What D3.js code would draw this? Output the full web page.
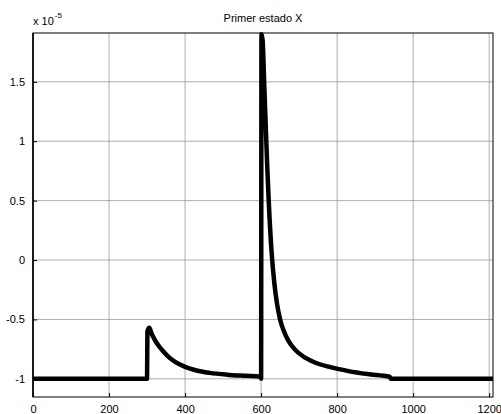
<!DOCTYPE html>
<html>
<head>
<meta charset="utf-8">
<script src="https://cdn.jsdelivr.net/npm/d3@7"></script>
<style>
  body { margin: 0; background: #fff; }
  svg { display: block; font-family: "Liberation Sans", Arial, sans-serif; }
</style>
</head>
<body>
<div id="chart"></div>
<script>
// chart data (units of 1e-5)
const tVals = [0, 300, 301, 306, 312, 320, 330, 343, 358, 375, 400, 430, 465, 510, 560, 598, 600,
  601, 604, 608, 612, 616, 620, 628, 635, 642, 650, 660, 672, 688, 710, 740, 780,
  830, 880, 938, 941, 1210];
const xVals = [-1, -1, -0.6, -0.57, -0.62, -0.67, -0.72, -0.77, -0.82, -0.86, -0.9, -0.93, -0.95, -0.965, -0.975, -0.982, -1,
  1.9, 1.85, 1.5, 1.15, 0.8, 0.5, 0.05, -0.2, -0.37, -0.5, -0.6, -0.68, -0.75, -0.81, -0.86, -0.9,
  -0.935, -0.96, -0.982, -1, -1];
const xTicks = [0, 200, 400, 600, 800, 1000, 1200];
const yTicks = [-1, -0.5, 0, 0.5, 1, 1.5];
const title = "Primer estado X";

const width = 501, height = 414;
const margin = { top: 33, right: 8, bottom: 17, left: 33 };

const svg = d3.select("#chart").append("svg")
  .attr("width", width)
  .attr("height", height);

const x = d3.scaleLinear().domain([0, 1210]).range([margin.left, width - margin.right]);
const y = d3.scaleLinear().domain([-1.153, 1.911]).range([height - margin.bottom, margin.top]);

// grid
svg.append("g").selectAll("line")
  .data(xTicks)
  .join("line")
  .attr("x1", d => x(d)).attr("x2", d => x(d))
  .attr("y1", y.range()[0]).attr("y2", y.range()[1])
  .attr("stroke", "#999").attr("stroke-width", 0.8);

svg.append("g").selectAll("line")
  .data(yTicks)
  .join("line")
  .attr("x1", x.range()[0]).attr("x2", x.range()[1])
  .attr("y1", d => y(d)).attr("y2", d => y(d))
  .attr("stroke", "#999").attr("stroke-width", 0.8);

// data line
const pts = tVals.map((t, i) => [t, xVals[i]]);
const line = d3.line().x(d => x(d[0])).y(d => y(d[1])).curve(d3.curveMonotoneX);

svg.append("path")
  .attr("d", line(pts))
  .attr("fill", "none")
  .attr("stroke", "#000")
  .attr("stroke-width", 4.5)
  .attr("stroke-linejoin", "round");

// box
svg.append("rect")
  .attr("x", x.range()[0]).attr("y", y.range()[1])
  .attr("width", x.range()[1] - x.range()[0])
  .attr("height", y.range()[0] - y.range()[1])
  .attr("fill", "none").attr("stroke", "#000").attr("stroke-width", 1);

// axes (ticks inside)
const xAxis = d3.axisBottom(x).tickValues(xTicks).tickSize(-4).tickPadding(8).tickFormat(d3.format("d"));
const gx = svg.append("g")
  .attr("transform", `translate(0,${y.range()[0]})`)
  .call(xAxis);
const yAxis = d3.axisLeft(y).tickValues(yTicks).tickSize(-4).tickPadding(8).tickFormat(d => String(d));
const gy = svg.append("g")
  .attr("transform", `translate(${x.range()[0]},0)`)
  .call(yAxis);

[gx, gy].forEach(g => {
  g.select(".domain").remove();
  g.selectAll("text").attr("font-size", 11).attr("fill", "#000")
    .attr("font-family", "Liberation Sans, Arial, sans-serif");
  g.selectAll(".tick line").attr("stroke", "#000");
});
svg.append("line")
  .attr("x1", x.range()[0]).attr("x2", x.range()[0])
  .attr("y1", y.range()[0]).attr("y2", y.range()[1])
  .attr("stroke", "#000").attr("stroke-width", 1.5);

// exponent label
const ex = svg.append("text")
  .attr("x", margin.left).attr("y", 25)
  .attr("font-size", 11);
ex.append("tspan").text("x 10");
ex.append("tspan").attr("dy", -7).attr("dx", 1).attr("font-size", 8).text("-5");

// title
svg.append("text")
  .attr("x", (x.range()[0] + x.range()[1]) / 2)
  .attr("y", 22)
  .attr("text-anchor", "middle")
  .attr("font-size", 11)
  .text(title);
</script>
</body>
</html>
